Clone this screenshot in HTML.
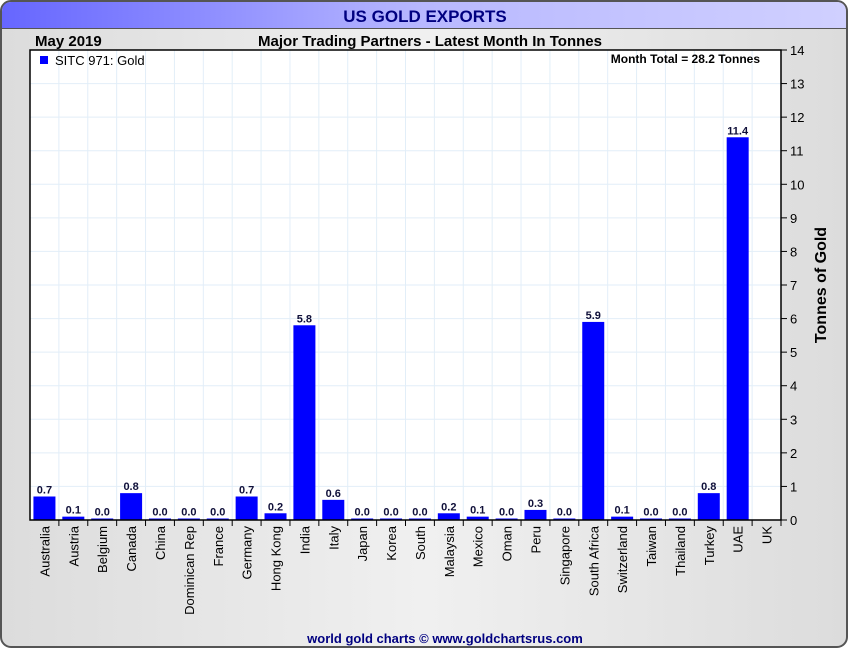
<!DOCTYPE html>
<html><head><meta charset="utf-8"><style>
body{margin:0;width:850px;height:650px;overflow:hidden;font-family:"Liberation Sans",Arial,sans-serif;background:#fff}
</style></head><body>
<svg width="850" height="650" xmlns="http://www.w3.org/2000/svg">
<defs>
<linearGradient id="bg" x1="0" x2="1" y1="0" y2="0"><stop offset="0" stop-color="#dcdcdc"/><stop offset="0.5" stop-color="#f0f0f0"/><stop offset="1" stop-color="#dcdcdc"/></linearGradient>
<linearGradient id="tb" x1="0" x2="1" y1="0" y2="0"><stop offset="0" stop-color="#6666ff"/><stop offset="0.5" stop-color="#b8b8ff"/><stop offset="1" stop-color="#d0d0ff"/></linearGradient>
</defs>
<rect x="1" y="1" width="846" height="646" rx="10" fill="url(#bg)" stroke="#555" stroke-width="2"/>
<path d="M2,28 L2,12 Q2,2 12,2 L836,2 Q846,2 846,12 L846,28 Z" fill="url(#tb)"/>
<line x1="2" y1="28.5" x2="846" y2="28.5" stroke="#555"/>
<text x="425" y="22" text-anchor="middle" font-size="17" font-weight="bold" fill="#000080">US GOLD EXPORTS</text>
<text x="35" y="46" font-size="15" font-weight="bold">May 2019</text>
<text x="430" y="46" text-anchor="middle" font-size="15" font-weight="bold">Major Trading Partners - Latest Month In Tonnes</text>
<rect x="30" y="50" width="751" height="470" fill="#fff"/>
<g id="grid"></g>
<g id="bars"></g>
<rect x="30" y="50" width="751" height="470" fill="none" stroke="#000" stroke-width="1.5"/>
<g id="axes"></g>
<rect x="40" y="56" width="8" height="8" fill="#0000ff"/>
<text x="55" y="65" font-size="13">SITC 971: Gold</text>
<text x="760" y="63" text-anchor="end" font-size="12" font-weight="bold">Month Total = 28.2 Tonnes</text>
<text transform="translate(826,285) rotate(-90)" text-anchor="middle" font-size="16" font-weight="bold">Tonnes of Gold</text>
<text x="445" y="643" text-anchor="middle" font-size="13" font-weight="bold" fill="#000080">world gold charts © www.goldchartsrus.com</text>
</svg>
<script>
const categories=["Australia","Austria","Belgium","Canada","China","Dominican Rep","France","Germany","Hong Kong","India","Italy","Japan","Korea","South","Malaysia","Mexico","Oman","Peru","Singapore","South Africa","Switzerland","Taiwan","Thailand","Turkey","UAE","UK"];
const values=[0.7,0.1,0.0,0.8,0.0,0.0,0.0,0.7,0.2,5.8,0.6,0.0,0.0,0.0,0.2,0.1,0.0,0.3,0.0,5.9,0.1,0.0,0.0,0.8,11.4,null];
const yTicks=[0,1,2,3,4,5,6,7,8,9,10,11,12,13,14];
const NS="http://www.w3.org/2000/svg";
const L=30,R=781,T=50,B=520,YMAX=14;
const bw=(R-L)/categories.length;
const y=v=>B-(v/YMAX)*(B-T);
const x=i=>L+i*bw;
function mk(tag,attrs,parent,text){const e=document.createElementNS(NS,tag);for(const k in attrs)e.setAttribute(k,attrs[k]);if(text!==undefined)e.textContent=text;parent.appendChild(e);return e;}
const grid=document.getElementById('grid'),bars=document.getElementById('bars'),axes=document.getElementById('axes');
yTicks.forEach(t=>{
  const gl=mk('line',{x1:L,x2:R,y1:y(t),y2:y(t),stroke:'#e2eef8'},grid);
  
  
  const tk=mk('line',{x1:R,x2:R+6,y1:y(t),y2:y(t),stroke:'#000'},axes);
  
  
  const tl=mk('text',{x:R+9,y:y(t)+5,'font-size':13},axes,String(t));
  
  
});
categories.forEach((c,i)=>{
  const vg=mk('line',{x1:x(i),x2:x(i),y1:T,y2:B,stroke:'#e2eef8'},grid);
  
  
  const tk=mk('line',{x1:x(i+1),x2:x(i+1),y1:B,y2:B+6,stroke:'#000'},axes);
  
  
  const cx=x(i)+bw/2;
  const lb=mk('text',{transform:`translate(${cx+5},${B+6}) rotate(-90)`,'text-anchor':'end','font-size':13},axes,c);
  
  
  const v=values[i];
  if(v!==null){
    const h=Math.max(B-y(v),1.5);
    const r=mk('rect',{x:cx-11,y:B-h,width:22,height:h,fill:'#0000ff'},bars);
    
    
    const vl=mk('text',{x:cx,y:B-h-3,'text-anchor':'middle','font-size':11,'font-weight':'bold',fill:'#10103a'},bars,v.toFixed(1));
    
    
  }
});
</script>
</body></html>
